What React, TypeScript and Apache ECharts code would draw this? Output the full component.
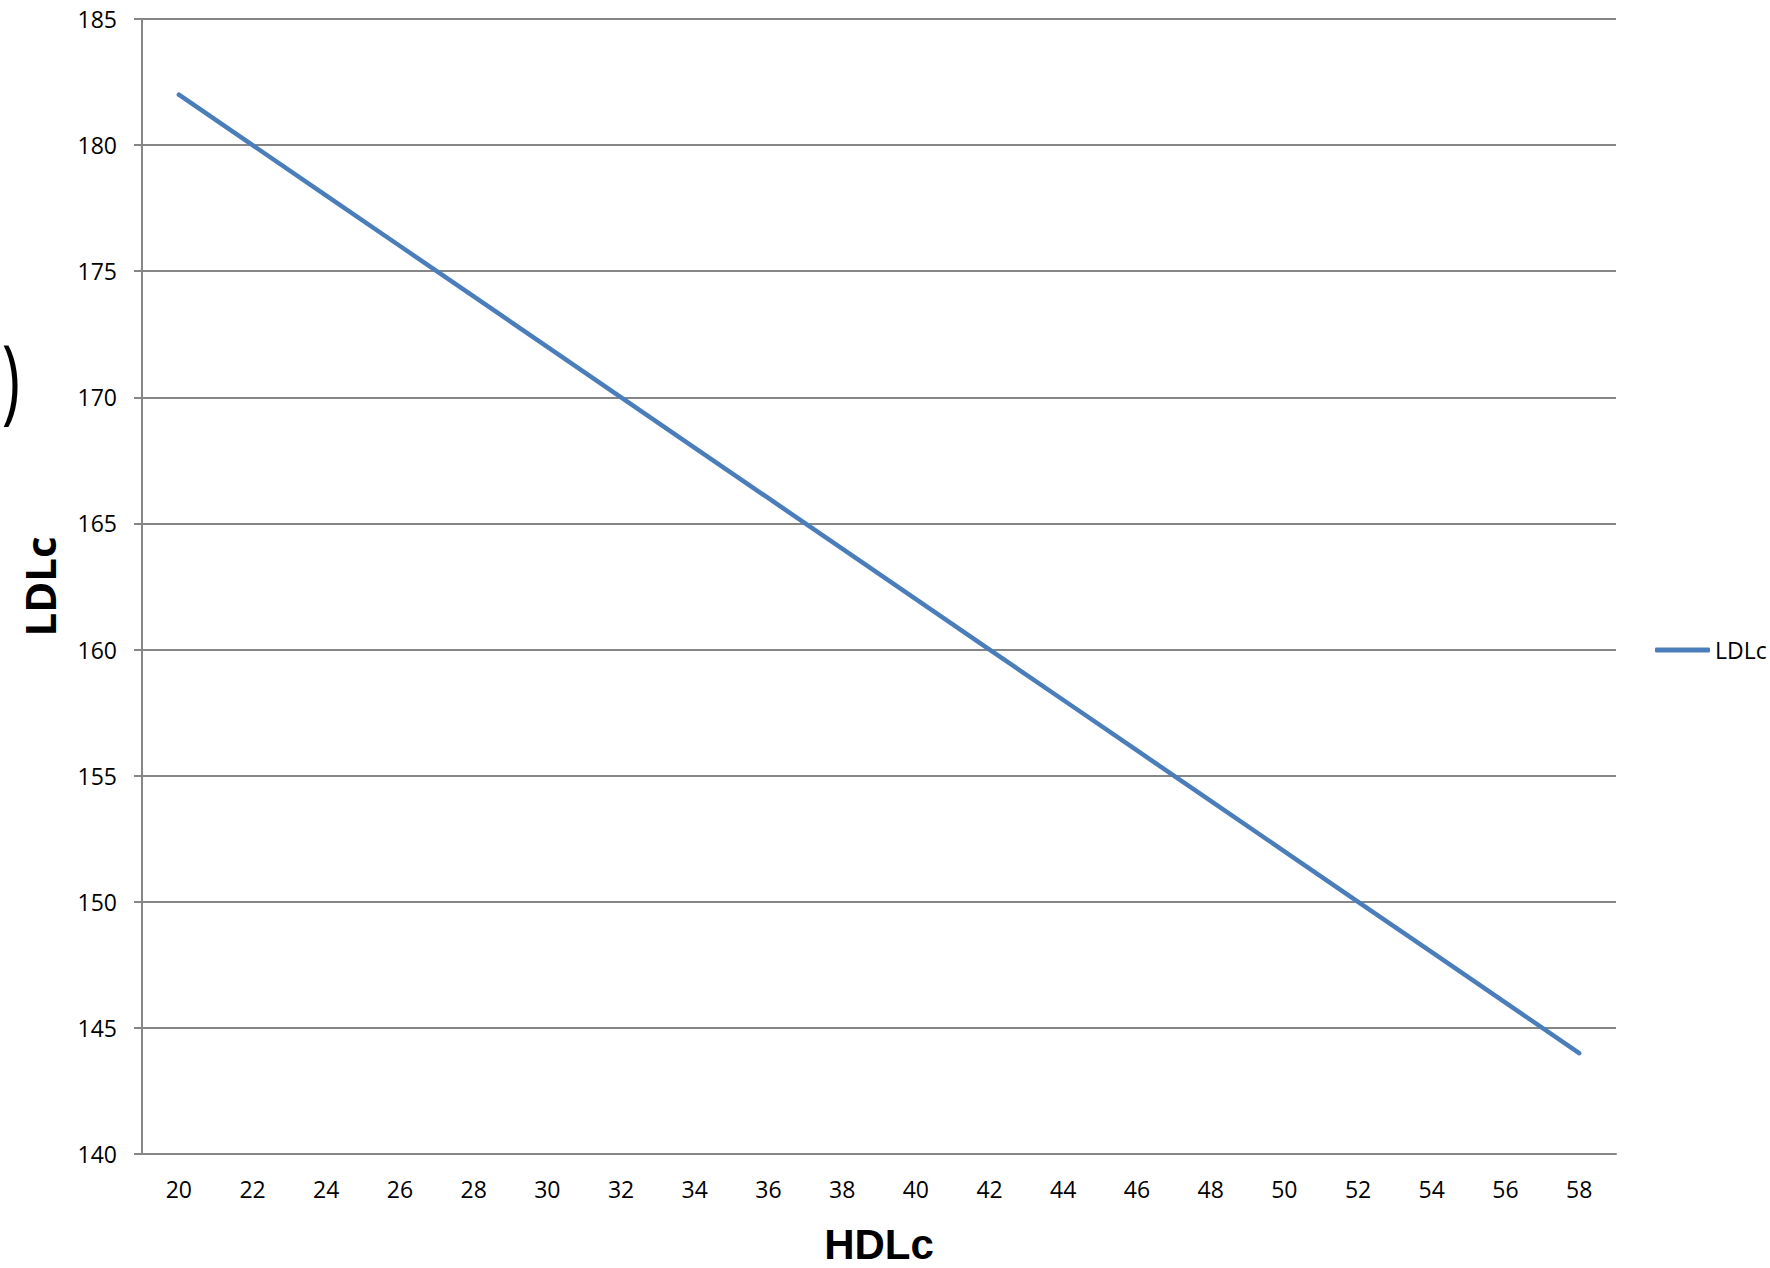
import React, { useEffect, useRef } from "react";
import * as echarts from "echarts";

const categories = ["20", "22", "24", "26", "28", "30", "32", "34", "36", "38", "40", "42", "44", "46", "48", "50", "52", "54", "56", "58"];
const ldlcValues = [182, 180, 178, 176, 174, 172, 170, 168, 166, 164, 162, 160, 158, 156, 154, 152, 150, 148, 146, 144];
const seriesName = "LDLc";
const xTitle = "HDLc";
const yTitle = "LDLc";

const FONT = "'Open Sans', 'Liberation Sans', sans-serif";
const TITLE_FONT = "'Liberation Sans', 'Open Sans', sans-serif";

export default function App() {
  const ref = useRef<HTMLDivElement>(null);
  useEffect(() => {
    if (!ref.current) return;
    const chart = echarts.init(ref.current, undefined, { renderer: "svg" });
    chart.setOption({
      animation: false,
      backgroundColor: "#ffffff",
      textStyle: { fontFamily: FONT },
      grid: { left: 142, right: 154, top: 19, bottom: 114, containLabel: false },
      legend: {
        data: [{ name: seriesName, icon: "roundRect" }],
        left: 1655,
        top: 638,
        padding: 0,
        itemWidth: 55,
        itemHeight: 5,
        itemGap: 5,
        itemStyle: { color: "#4a7ebb", borderWidth: 0 },
        textStyle: { fontSize: 23, lineHeight: 24, color: "#000", fontFamily: FONT, padding: [0, 0, 0, 0] },
      },
      xAxis: {
        type: "category",
        data: categories,
        boundaryGap: true,
        axisLine: { lineStyle: { color: "#868686", width: 2 } },
        axisTick: { show: false },
        axisLabel: { fontSize: 23, lineHeight: 24, color: "#000", margin: 23, fontFamily: FONT },
        splitLine: { show: false },
      },
      yAxis: {
        type: "value",
        min: 140,
        max: 185,
        interval: 5,
        name: yTitle,
        nameLocation: "middle",
        nameGap: 82,
        nameRotate: 90,
        nameTextStyle: { fontSize: 42, fontWeight: "bold", color: "#000", fontFamily: FONT },
        axisLine: { show: true, lineStyle: { color: "#868686", width: 2 } },
        axisTick: { show: true, length: 8, lineStyle: { color: "#868686", width: 2 } },
        axisLabel: { fontSize: 23, color: "#000", margin: 25, fontFamily: FONT },
        splitLine: { show: true, lineStyle: { color: "#868686", width: 2 } },
      },
      series: [
        {
          name: seriesName,
          type: "line",
          data: ldlcValues,
          symbol: "none",
          lineStyle: { color: "#4a7ebb", width: 4.5, cap: "round" },
          itemStyle: { color: "#4a7ebb" },
        },
      ],
      graphic: [
        {
          type: "text",
          x: 20,
          y: 376,
          scaleY: 1.5,
          style: {
            text: ")",
            fontSize: 62,
            lineHeight: 62,
            fontFamily: FONT,
            fill: "#000",
            align: "right",
            verticalAlign: "middle",
          },
        },
        {
          type: "text",
          x: 879,
          y: 1244,
          style: {
            text: xTitle,
            fontSize: 42,
            lineHeight: 42,
            fontWeight: "bold",
            fontFamily: TITLE_FONT,
            fill: "#000",
            align: "center",
            verticalAlign: "middle",
          },
        },
      ],
    });
    return () => chart.dispose();
  }, []);
  return (
    <div
      ref={ref}
      style={{ position: "fixed", left: 0, top: 0, width: 1770, height: 1268 }}
    />
  );
}
